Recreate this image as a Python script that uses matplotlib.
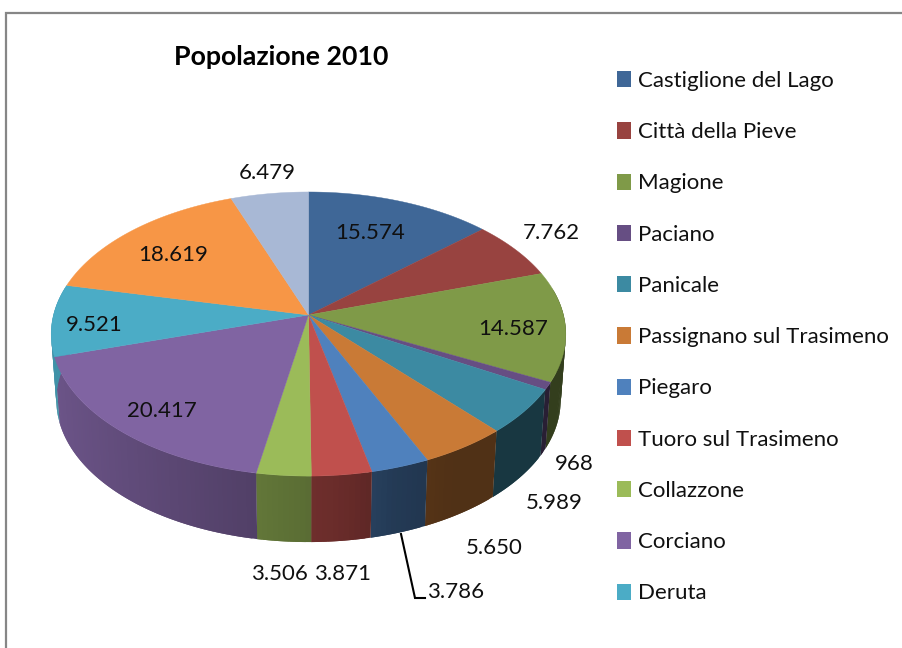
import numpy as np
import matplotlib
matplotlib.use("Agg")
import matplotlib.pyplot as plt
from matplotlib.patches import Patch

plt.rcParams['font.family'] = ['Lato', 'DejaVu Sans']

TITLE = "Popolazione 2010"
legend_names = ["Castiglione del Lago", "Città della Pieve", "Magione", "Paciano",
                "Panicale", "Passignano sul Trasimeno", "Piegaro",
                "Tuoro sul Trasimeno", "Collazzone", "Corciano", "Deruta"]
values = [15574, 7762, 14587, 968, 5989, 5650, 3786, 3871, 3506, 20417, 9521, 18619, 6479]
colors = ["#3f6797", "#984340", "#7f9a48", "#664e83", "#3c8aa2", "#c97a36", "#4f81bd",
          "#c0504d", "#9bbb59", "#8064a2", "#4bacc6", "#f79646", "#a8b8d5"]
label_pos = [(370, 233), (551, 233), (513, 329), (574, 464), (554.5, 503), (494, 548),
             (456, 592), (343, 574), (279, 574), (162, 411), (94, 325), (173, 255), (267, 173)]

# pie geometry, in pixels of the picture
cx, cy = 308.5, 315
rx, ry, persp = 255, 139.5, 0.134
depth = 66
bottom_scale = 0.98  # lower rim is a bit narrower


def project(theta):
    # theta is clockwise from the top of the pie
    u, v = np.sin(theta), np.cos(theta)
    w = 1 + persp * v
    return cx + rx * u / w, cy - ry * v / w


def shade(hex_col, x):
    f = np.interp(x, [-1, -0.2, 0.1, 0.3, 0.5, 1], [0.85, 0.64, 0.55, 0.45, 0.4, 0.4])
    return tuple(c * f for c in matplotlib.colors.to_rgb(hex_col))


fig = plt.figure(figsize=(9.03, 6.48), dpi=100)
ax = fig.add_axes([0, 0, 1, 1])
ax.set_xlim(0, 903)
ax.set_ylim(648, 0)
ax.axis("off")

# chart frame, only top and left are in the crop
ax.plot([6.5, 6.5, 903], [648, 13, 13], color="#868686", lw=1.6, solid_joinstyle="miter")

edges = np.cumsum([0] + values) / sum(values) * 2 * np.pi

# side wall first, thin overlapping strips for the shading
for i, col in enumerate(colors):
    th = np.linspace(edges[i], edges[i + 1], max(3, int((edges[i + 1] - edges[i]) * 60)))
    for j in range(len(th) - 1):
        a, b = th[j], th[min(j + 2, len(th) - 1)]
        mid = (th[j] + th[j + 1]) / 2
        if np.cos(mid) > 0.2:
            continue
        xa, ya = project(a)
        xb, yb = project(b)
        xa2 = cx + (xa - cx) * bottom_scale
        xb2 = cx + (xb - cx) * bottom_scale
        ax.fill([xa, xb, xb2, xa2], [ya, yb, yb + depth, ya + depth],
                color=shade(col, np.sin(mid)), lw=0)

# top surface
for i, col in enumerate(colors):
    th = np.linspace(edges[i], edges[i + 1], 80)
    xs, ys = project(th)
    ax.fill(np.r_[cx, xs], np.r_[cy, ys], color=col, lw=0.3)

for v, (x, y) in zip(values, label_pos):
    ax.text(x, y, f"{v:,}".replace(",", "."), ha="center", va="center",
            fontsize=16, color="#101010")

# leader line of the Piegaro label
ax.plot([401, 415, 425], [534, 598, 598], color="black", lw=1.5, solid_joinstyle="miter")

ax.text(281, 57, TITLE, ha="center", va="center", fontsize=19.3, fontweight="bold", color="black")

handles = [Patch(facecolor=c, edgecolor="none") for c in colors[:len(legend_names)]]
ax.legend(handles, legend_names, loc="upper left", bbox_to_anchor=(617, 71),
          bbox_transform=ax.transData, frameon=False, fontsize=16, borderpad=0,
          borderaxespad=0, handlelength=0.63, handleheight=0.75, handletextpad=0.31,
          labelspacing=1.406, labelcolor="#101010")

fig.savefig("out.png", dpi=100)
